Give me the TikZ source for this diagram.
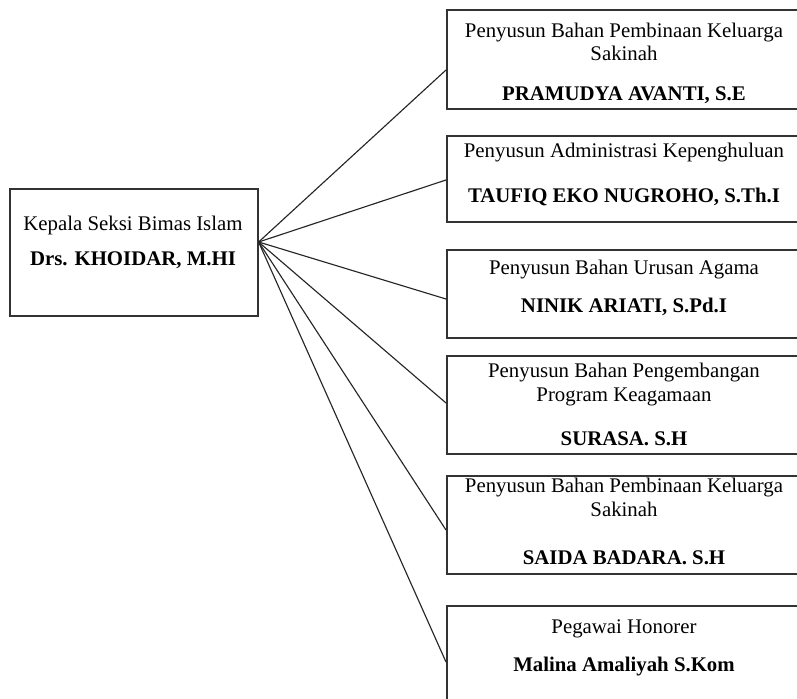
\documentclass[tikz,border=0pt]{standalone}
\usepackage{fontspec}
\setmainfont{Liberation Serif}

\begin{document}
\begin{tikzpicture}[x=0.615pt,y=-0.615pt,
    jabatan/.style={draw=black!80,line width=1pt,anchor=north west,inner sep=0pt,
        minimum width=356*0.615pt},
    tugas/.style={anchor=base,inner sep=0pt,font=\fontsize{12.8}{15}\selectfont},
    nama/.style={anchor=base,inner sep=0pt,font=\fontsize{12.8}{15}\selectfont\bfseries},
    garis/.style={draw=black!85,line width=0.7pt}]
    \useasboundingbox (0,0) rectangle (797,699);
    \clip (0,0) rectangle (797,699);
    %kepala seksi
    \node[jabatan,minimum width=248*0.615pt,minimum height=127*0.615pt] (kepala) at (9,188) {};
    \node[tugas] (kjab) at (133,231) {Kepala Seksi Bimas Islam};
    \node[nama] (knama) at (133,266) {Drs. KHOIDAR, M.HI};
    \coordinate (pusat) at (kepala.east |- 0,242);
    %staf
    \node[jabatan,minimum height=99*0.615pt] (s1) at (446,9) {};
    \node[tugas] (s1a) at (624,38) {Penyusun Bahan Pembinaan Keluarga};
    \node[tugas] (s1b) at (624,61) {Sakinah};
    \node[nama] (s1n) at (624,101) {PRAMUDYA AVANTI, S.E};
    \node[jabatan,minimum height=86*0.615pt] (s2) at (446,135) {};
    \node[tugas] (s2a) at (624,158) {Penyusun Administrasi Kepenghuluan};
    \node[nama] (s2n) at (624,203) {TAUFIQ EKO NUGROHO, S.Th.I};
    \node[jabatan,minimum height=88*0.615pt] (s3) at (446,249) {};
    \node[tugas] (s3a) at (624,275) {Penyusun Bahan Urusan Agama};
    \node[nama] (s3n) at (624,313) {NINIK ARIATI, S.Pd.I};
    \node[jabatan,minimum height=98*0.615pt] (s4) at (446,355) {};
    \node[tugas] (s4a) at (624,378) {Penyusun Bahan Pengembangan};
    \node[tugas] (s4b) at (624,402) {Program Keagamaan};
    \node[nama] (s4n) at (624,446) {SURASA. S.H};
    \node[jabatan,minimum height=98*0.615pt] (s5) at (446,475) {};
    \node[tugas] (s5a) at (624,493) {Penyusun Bahan Pembinaan Keluarga};
    \node[tugas] (s5b) at (624,517) {Sakinah};
    \node[nama] (s5n) at (624,564) {SAIDA BADARA. S.H};
    \node[jabatan,minimum height=110*0.615pt] (s6) at (446,605) {};
    \node[tugas] (s6a) at (624,633) {Pegawai Honorer};
    \node[nama] (s6n) at (624,671) {Malina Amaliyah S.Kom};
    %garis penghubung
    \draw[garis] (pusat) -- (s1.west |- 0,70);
    \draw[garis] (pusat) -- (s2.west |- 0,180);
    \draw[garis] (pusat) -- (s3.west |- 0,299);
    \draw[garis] (pusat) -- (s4.west |- 0,403);
    \draw[garis] (pusat) -- (s5.west |- 0,530);
    \draw[garis] (pusat) -- (s6.west |- 0,662);
\end{tikzpicture}
\end{document}
